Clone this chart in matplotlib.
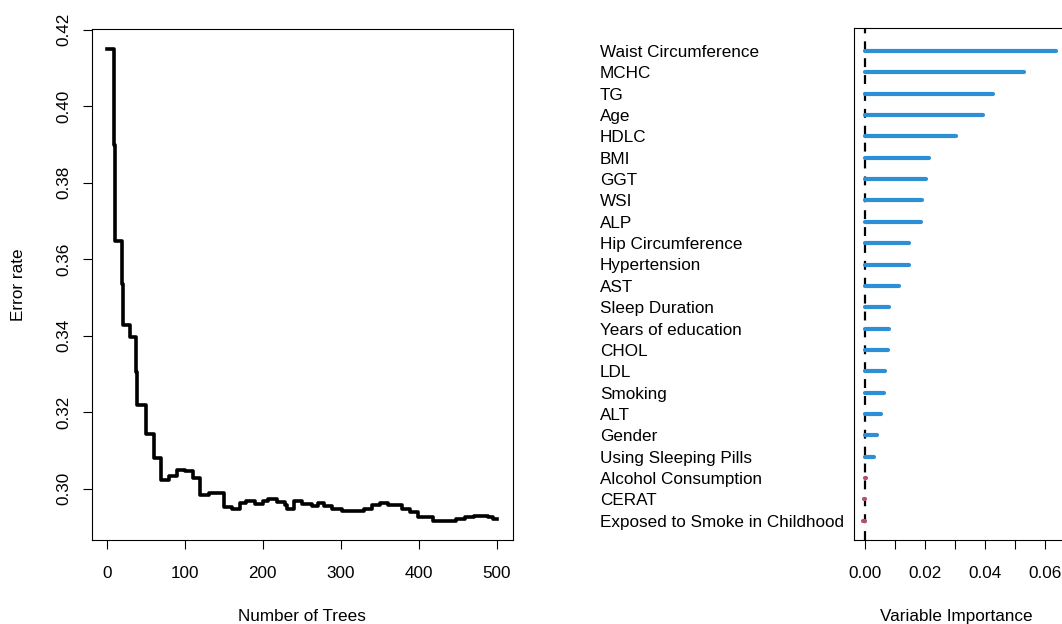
import matplotlib
matplotlib.use('Agg')
import matplotlib.pyplot as plt
import matplotlib.transforms as mtransforms

plt.rcParams['font.family'] = ['Liberation Sans', 'DejaVu Sans']

# ==========================================
# DATA
# ==========================================
# OOB error vs number of trees (step breakpoints)
n_trees = [1, 10, 11, 20, 21, 30, 38, 39, 50, 60, 70, 80, 90, 100, 110, 120,
           131, 150, 160, 171, 179, 190, 200, 207, 218, 228, 231, 240, 250,
           263, 271, 278, 288, 301, 329, 340, 350, 360, 378, 389, 399, 418,
           448, 459, 470, 489, 495, 500]
error_rate = [0.4151, 0.3899, 0.3648, 0.3536, 0.3427, 0.3398, 0.3305, 0.3218,
              0.3142, 0.3081, 0.3022, 0.3034, 0.3050, 0.3047, 0.3029, 0.2984,
              0.2988, 0.2953, 0.2948, 0.2962, 0.2968, 0.2960, 0.2968, 0.2973,
              0.2966, 0.2957, 0.2948, 0.2968, 0.2960, 0.2955, 0.2962, 0.2955,
              0.2948, 0.2942, 0.2948, 0.2957, 0.2962, 0.2957, 0.2948, 0.2940,
              0.2925, 0.2916, 0.2922, 0.2927, 0.2929, 0.2925, 0.2921, 0.2921]

# variable importance, top to bottom
variables = ['Waist Circumference', 'MCHC', 'TG', 'Age', 'HDLC', 'BMI', 'GGT',
             'WSI', 'ALP', 'Hip Circumference', 'Hypertension', 'AST',
             'Sleep Duration', 'Years of education', 'CHOL', 'LDL', 'Smoking',
             'ALT', 'Gender', 'Using Sleeping Pills', 'Alcohol Consumption',
             'CERAT', 'Exposed to Smoke in Childhood']
importance = [0.0635, 0.0528, 0.0425, 0.0392, 0.0302, 0.0212, 0.0202, 0.0190,
              0.0187, 0.0148, 0.0146, 0.0113, 0.0080, 0.0080, 0.0076, 0.0068,
              0.0065, 0.0054, 0.0040, 0.0032, 0.0003, -0.0003, -0.0006]

tree_ticks = [0, 100, 200, 300, 400, 500]
err_ticks = [0.30, 0.32, 0.34, 0.36, 0.38, 0.40, 0.42]
imp_ticks = [0.00, 0.01, 0.02, 0.03, 0.04, 0.05, 0.06]
imp_labels = ['0.00', '', '0.02', '', '0.04', '', '0.06']

# ==========================================
# FIGURE
# ==========================================
W, H = 1062, 624
FS = 12.3


def px_box(l, t, r, b):
    return [l / W, 1 - b / H, (r - l) / W, (b - t) / H]


fig = plt.figure(figsize=(W / 100, H / 100), dpi=100)

# --- left: error rate ---
ax1 = fig.add_axes(px_box(91.7, 29, 512.7, 540))
ax1.plot(n_trees, error_rate, drawstyle='steps-post', color='black', lw=2.6)
ax1.set_xlim(-19.2, 520.1)
ax1.set_ylim(0.2866, 0.4202)
ax1.set_xticks(tree_ticks)
ax1.set_yticks(err_ticks)
ax1.set_yticklabels([f'{v:.2f}' for v in err_ticks], rotation=90, va='center')
ax1.tick_params(direction='out', length=6.5, width=0.8, labelsize=FS)
ax1.tick_params(axis='x', pad=12.5)
ax1.tick_params(axis='y', pad=8)
ax1.set_xlabel('Number of Trees', fontsize=FS, va='center')
ax1.set_ylabel('Error rate', fontsize=FS, va='center')
ax1.xaxis.set_label_coords(0.5, -0.149)
ax1.yaxis.set_label_coords(-0.173, 0.5)
for s in ax1.spines.values():
    s.set_linewidth(0.8)

# --- right: variable importance ---
ax2 = fig.add_axes(px_box(854, 28.3, 1064, 540))
pos = list(range(len(variables), 0, -1))
colours = ['#2D8FD5' if v > 0.001 else '#B5506A' for v in importance]
ax2.axvline(0, color='black', ls=(0, (4, 3.6)), lw=1.6)
ax2.hlines(pos, 0, importance, colors=colours, lw=3.0, capstyle='round')
ax2.set_xlim(-0.00355, 0.0662)
ax2.set_ylim(0.10, 24.06)
ax2.set_yticks([])
ax2.set_xticks(imp_ticks)
ax2.set_xticklabels(imp_labels)
ax2.tick_params(direction='out', length=6.5, width=0.8, labelsize=FS, pad=12.5)
ax2.set_xlabel('Variable Importance', fontsize=FS, va='center')
ax2.xaxis.set_label_coords(0.486, -0.149)
for s in ax2.spines.values():
    s.set_linewidth(0.8)

lab_tr = mtransforms.blended_transform_factory(fig.transFigure, ax2.transData)
for p, name in zip(pos, variables):
    ax2.text(600 / W, p - 0.07, name, transform=lab_tr, ha='left', va='center',
             fontsize=FS)

fig.savefig('out.png', dpi=100)
